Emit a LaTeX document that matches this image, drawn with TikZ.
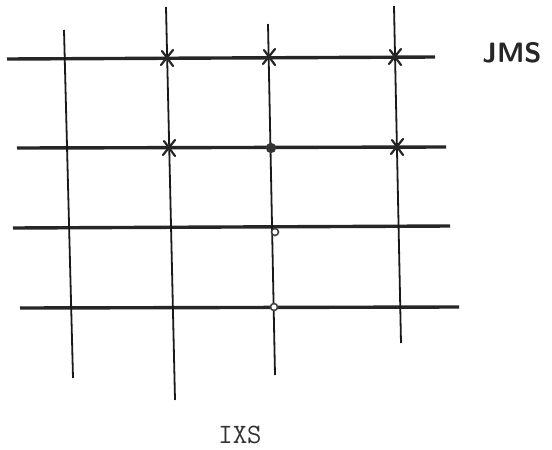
\documentclass[tikz,border=0pt]{standalone}
\usetikzlibrary{positioning}
\tikzset{
  rowline/.style={line width=1.7pt, black!85},
  colline/.style={line width=0.9pt, black!90},
  crossmark/.style={line width=1.1pt, black!85, line cap=round},
  dotmark/.style={fill=black!80, draw=black!80, line width=0.6pt},
  ringmark/.style={draw=black!75, line width=0.8pt, fill=white}
}
\begin{document}
\begin{tikzpicture}[x=0.5pt, y=-0.5pt]
    \useasboundingbox (0,0) rectangle (552,450);
    % horizontal rows, drawn a little thicker
    \foreach \n/\xa/\ya/\xb/\yb in {1/7/59/435/57, 2/17/148/446/147,
                                    3/13/228/450/226, 4/20/308/459/307} {
      \coordinate (row\n w) at (\xa,\ya);
      \coordinate (row\n e) at (\xb,\yb);
      \draw[rowline] (row\n w) -- (row\n e);
    }
    % vertical columns, slightly slanted as in the sketch
    \foreach \n/\xa/\ya/\xb/\yb in {1/64/30/73/378, 2/166/7/175/400,
                                    3/268/24/275/375, 4/394/6/401/343} {
      \coordinate (col\n n) at (\xa,\ya);
      \coordinate (col\n s) at (\xb,\yb);
      \draw[colline] (col\n n) -- (col\n s);
    }
    % crossed points
    \foreach \m/\x/\y in {a/167/58, b/269/57, c/395/57, d/169/148, e/397/147} {
      \coordinate (mark\m) at (\x,\y);
      \draw[crossmark] ([shift={(-6,7)}]mark\m) -- ([shift={(6,-8)}]mark\m);
      \draw[crossmark] ([shift={(-5,-7)}]mark\m) -- ([shift={(6,8)}]mark\m);
    }
    % dot and small rings on the third column
    \coordinate (markf) at (271,148);
    \fill[dotmark] (markf) circle (4.5);
    \coordinate (markg) at (275,232);
    \draw[ringmark] (markg) circle (3.5);
    \coordinate (markh) at (274,307);
    \draw[ringmark] (markh) circle (3.5);
    % labels
    \node[font=\sffamily\bfseries\fontsize{14}{16}\selectfont, black!85]
      (jms) at (512,53) {JMS};
    \node[font=\ttfamily\fontsize{14}{16}\selectfont, black!80]
      (ixs) at (240,435) {IXS};
\end{tikzpicture}
\end{document}
